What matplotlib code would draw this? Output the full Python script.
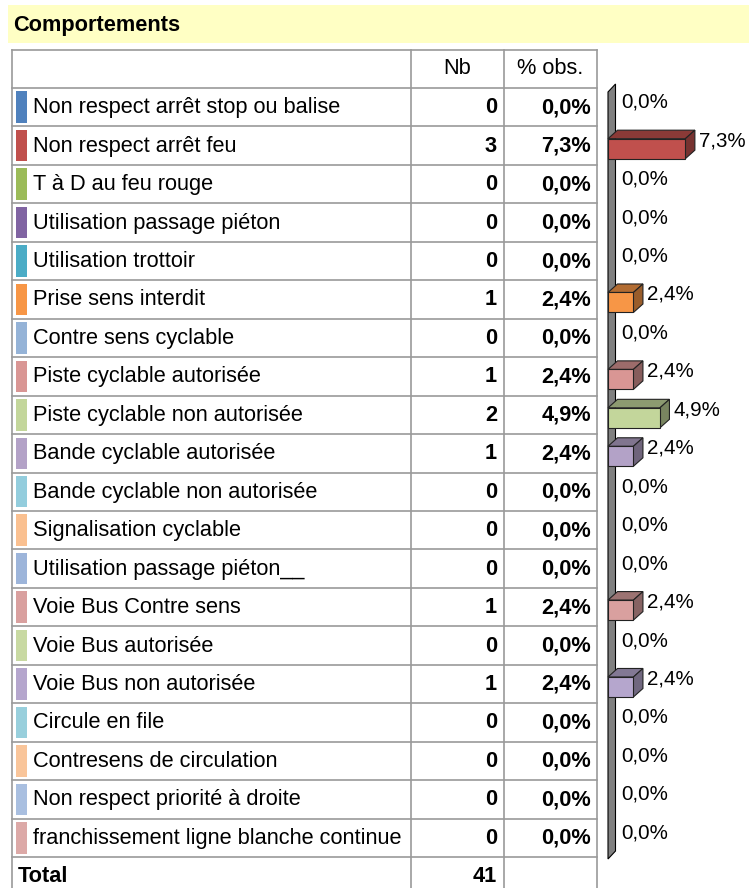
import matplotlib.pyplot as plt
from matplotlib.patches import Rectangle, Polygon
import matplotlib.colors as mcolors
import numpy as np

plt.rcParams['font.family'] = ['Liberation Sans', 'DejaVu Sans']

title = "Comportements"
categories = [
    "Non respect arrêt stop ou balise",
    "Non respect arrêt feu",
    "T à D au feu rouge",
    "Utilisation passage piéton",
    "Utilisation trottoir",
    "Prise sens interdit",
    "Contre sens cyclable",
    "Piste cyclable autorisée",
    "Piste cyclable non autorisée",
    "Bande cyclable autorisée",
    "Bande cyclable non autorisée",
    "Signalisation cyclable",
    "Utilisation passage piéton__",
    "Voie Bus Contre sens",
    "Voie Bus autorisée",
    "Voie Bus non autorisée",
    "Circule en file",
    "Contresens de circulation",
    "Non respect priorité à droite",
    "franchissement ligne blanche continue",
]
counts = [0, 3, 0, 0, 0, 1, 0, 1, 2, 1, 0, 0, 0, 1, 0, 1, 0, 0, 0, 0]
pct_obs = [0.0, 7.3, 0.0, 0.0, 0.0, 2.4, 0.0, 2.4, 4.9, 2.4,
           0.0, 0.0, 0.0, 2.4, 0.0, 2.4, 0.0, 0.0, 0.0, 0.0]
total = 41
colors = [
    "#4F81BD", "#C0504D", "#9BBB59", "#8064A2", "#4BACC6",
    "#F79646", "#95B3D7", "#D99694", "#C3D69B", "#B3A2C7",
    "#93CDDD", "#FAC090", "#9DB5DA", "#D9A09F", "#C8D9A2",
    "#B5A6CD", "#98CFDC", "#F9C59A", "#A9BFE0", "#DCA9A7",
]

W, H = 749, 888
fig = plt.figure(figsize=(W / 100, H / 100), dpi=100)

# full-figure axes in pixel units for the table
ax = fig.add_axes([0, 0, 1, 1])
ax.set_xlim(0, W)
ax.set_ylim(H, 0)
ax.axis('off')

fs = 15.7
line_c = '#9a9a9a'

# title banner
ax.add_patch(Rectangle((8, 5), W - 8, 38, facecolor='#FFFFC4', edgecolor='none'))
ax.text(13, 25, title, fontsize=fs, fontweight='bold', va='center', ha='left')

# table geometry
x_left, x_nb, x_pct, x_right = 12, 411, 504, 597
y_head = 50
row_top = 88
pitch = 38.45
n = len(categories)
y_end = row_top + n * pitch

# horizontal lines
ax.plot([x_left, x_right], [y_head, y_head], color=line_c, lw=1.2)
for i in range(n + 1):
    y = row_top + i * pitch
    ax.plot([x_left, x_right], [y, y], color=line_c, lw=1.2)
# vertical lines
for x in [x_left, x_nb, x_pct, x_right]:
    ax.plot([x, x], [y_head, H + 5], color=line_c, lw=1.2)

ax.text((x_nb + x_pct) / 2, (y_head + row_top) / 2, "Nb", fontsize=fs, ha='center', va='center')
ax.text((x_pct + x_right) / 2, (y_head + row_top) / 2, "% obs.", fontsize=fs, ha='center', va='center')

for i, (cat, c, v, col) in enumerate(zip(categories, counts, pct_obs, colors)):
    top = row_top + i * pitch
    yc = top + pitch / 2 + 0.5
    ax.add_patch(Rectangle((16, top + 3.5), 10.5, pitch - 7, facecolor=col, edgecolor='none'))
    ax.text(33, yc, cat, fontsize=fs, ha='left', va='center')
    ax.text(x_pct - 7, yc, str(c), fontsize=fs, fontweight='bold', ha='right', va='center')
    ax.text(x_right - 6, yc, f"{v:.1f}".replace('.', ',') + '%', fontsize=fs,
            fontweight='bold', ha='right', va='center')

ax.text(18, y_end + 19, "Total", fontsize=fs, fontweight='bold', ha='left', va='center')
ax.text(x_pct - 7, y_end + 19, str(total), fontsize=fs, fontweight='bold', ha='right', va='center')

# 3D bar chart axes
px_per_pct = 10.6
cx0 = 608
bx = fig.add_axes([cx0 / W, 1 - y_end / H, (W - cx0) / W, (y_end - row_top) / H])
bx.set_xlim(0, (W - cx0) / px_per_pct)
bx.set_ylim(n, 0)
bx.axis('off')

# back wall
wdx = 7.5 / px_per_pct
wdy = 8 / pitch
wy0 = 4 / pitch
wy1 = (859 - row_top) / pitch
bx.add_patch(Polygon([(0, wy1), (0, wy0), (wdx, wy0 - wdy), (wdx, wy1 - wdy)],
                     closed=True, facecolor='#808080', edgecolor='black', lw=0.8, clip_on=False))

dx = 9.5 / px_per_pct
dy = 8.5 / pitch
bh = 20 / pitch
boff = 3 / pitch
gap = 4 / px_per_pct

for i, (v, col) in enumerate(zip(pct_obs, colors)):
    c = i + 0.5
    ytop = c - bh / 2 + boff
    ybot = c + bh / 2 + boff
    if v > 0:
        rgb = np.array(mcolors.to_rgb(col))
        bx.add_patch(Polygon([(0, ytop), (v, ytop), (v + dx, ytop - dy), (dx, ytop - dy)],
                             closed=True, facecolor=rgb * 0.72, edgecolor='#222222', lw=0.8, clip_on=False))
        bx.add_patch(Polygon([(v, ytop), (v + dx, ytop - dy), (v + dx, ybot - dy), (v, ybot)],
                             closed=True, facecolor=rgb * 0.62, edgecolor='#222222', lw=0.8, clip_on=False))
        bx.add_patch(Rectangle((0, ytop), v, bh, facecolor=col, edgecolor='#222222', lw=0.8, clip_on=False))
    bx.text(v + dx + gap, c - 0.13, f"{v:.1f}".replace('.', ',') + '%', fontsize=14.8,
            ha='left', va='center', clip_on=False)

fig.savefig('out.png', dpi=100)
